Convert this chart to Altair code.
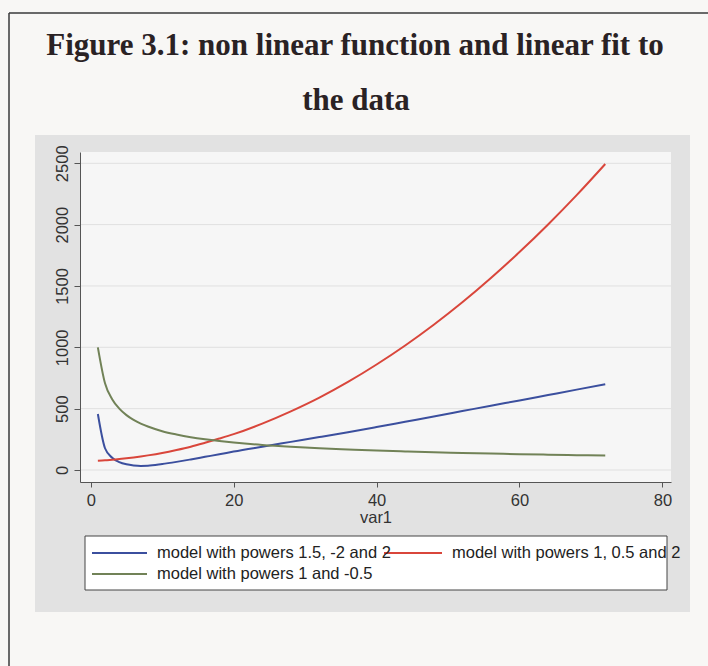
import altair as alt
import pandas as pd

# Fitted curves evaluated at these values of var1
x_vals = [1, 2, 3, 4, 5, 6, 7, 8, 10, 12, 14, 16, 18, 20, 24, 28, 32, 36, 40,
          44, 48, 52, 56, 60, 64, 68, 72]
blue_vals = [456, 177, 100, 64, 46, 37, 33, 34, 48, 66, 86, 107, 128, 150, 190,
             229, 268, 308, 350, 393, 436, 480, 524, 567, 611, 655, 698]
red_vals = [76, 79, 84, 89, 95, 102, 110, 119, 139, 163, 190, 222, 256, 292, 378,
            478, 590, 718, 860, 1015, 1184, 1367, 1565, 1776, 2001, 2240, 2494]
green_vals = [1000, 707, 577, 500, 447, 408, 378, 354, 316, 289, 267, 250, 236,
              224, 204, 189, 177, 167, 158, 151, 144, 139, 134, 129, 125, 121, 118]

series_names = ["model with powers 1.5, -2 and 2",
                "model with powers 1, 0.5 and 2",
                "model with powers 1 and -0.5"]
series_colors = ["#3b4f9e", "#d9463b", "#718257"]

y_ticks = [0, 500, 1000, 1500, 2000, 2500]
x_ticks = [0, 20, 40, 60, 80]

title_lines = ["Figure 3.1: non linear function and linear fit to", "the data"]

rows = []
for name, vals in zip(series_names, [blue_vals, red_vals, green_vals]):
    for xv, yv in zip(x_vals, vals):
        rows.append({"var1": xv, "value": yv, "series": name})
df = pd.DataFrame(rows)

W, H = 591, 330
x_scale = alt.Scale(domain=[-1.5, 81.2], nice=False, zero=False)
y_scale = alt.Scale(domain=[-98, 2592], nice=False, zero=False)
color_scale = alt.Scale(domain=series_names, range=series_colors)

one = pd.DataFrame({"k": [0]})
FONT = "Liberation Sans"
FS = 16.5

y_axis = alt.Axis(values=y_ticks, format="d", title=None, grid=False, zindex=1,
                  labelAngle=270, labelAlign="center", labelBaseline="bottom",
                  labelFont=FONT, labelFontSize=FS, labelColor="#333",
                  tickSize=6, tickColor="#555", domainColor="#555",
                  labelPadding=4)
x_axis = alt.Axis(values=x_ticks, format="d", title="var1", grid=False,
                  zindex=1, labelFont=FONT, labelFontSize=FS,
                  labelColor="#333", tickSize=5, tickColor="#555",
                  domainColor="#555", labelPadding=5, labelFlush=False,
                  titleFont=FONT, titleFontSize=FS, titleFontWeight="normal",
                  titleColor="#333", titlePadding=1)

# Outer graph region (grey) and the inner plot region
graph_region = alt.Chart(one).mark_rect(color="#e2e2e2").encode(
    x=alt.value(-45), x2=alt.value(610), y=alt.value(-17), y2=alt.value(460))
plot_region = alt.Chart(one).mark_rect(color="#f6f6f6").encode(
    x=alt.value(0), x2=alt.value(W), y=alt.value(0), y2=alt.value(H))

grid = alt.Chart(pd.DataFrame({"tick": y_ticks})).mark_rule(
    color="#e0e0e0", strokeWidth=1).encode(
    y=alt.Y("tick:Q", scale=y_scale, axis=y_axis))

lines = alt.Chart(df).mark_line(strokeWidth=2, interpolate="monotone").encode(
    x=alt.X("var1:Q", scale=x_scale, axis=x_axis),
    y=alt.Y("value:Q", scale=y_scale, axis=y_axis),
    color=alt.Color("series:N", sort=series_names, scale=color_scale,
                    legend=None),
)

# Legend box with line samples and labels (two columns, Stata style)
legend_box = alt.Chart(one).mark_rect(
    fill="#ffffff", stroke="#444", strokeWidth=1).encode(
    x=alt.value(5), x2=alt.value(587), y=alt.value(384), y2=alt.value(438))

legend_df = pd.DataFrame({
    "series": series_names,
    "sx0": [12, 304, 12],
    "sx1": [67, 362, 67],
    "tx": [77, 372, 77],
    "ty": [401, 401, 422],
})
legend_samples = alt.Chart(legend_df).mark_rule(strokeWidth=2).encode(
    x=alt.X("sx0:Q", scale=None), x2="sx1:Q",
    y=alt.Y("ty:Q", scale=None),
    color=alt.Color("series:N", scale=color_scale, legend=None),
)
legend_labels = alt.Chart(legend_df).mark_text(
    font=FONT, fontSize=FS, color="#222", align="left", baseline="middle").encode(
    x=alt.X("tx:Q", scale=None), y=alt.Y("ty:Q", scale=None), text="series:N")

# Page frame
left_rule = alt.Chart(one).mark_rule(color="#3a3a3a", strokeWidth=1.5).encode(
    x=alt.value(-71), y=alt.value(-139), y2=alt.value(520))
top_rule = alt.Chart(one).mark_rule(color="#3a3a3a", strokeWidth=1.5).encode(
    y=alt.value(-139), x=alt.value(-71), x2=alt.value(640))

title1 = alt.Chart(one).mark_text(
    font="Liberation Serif", fontSize=31, fontWeight="bold", color="#2a2224",
    align="center", baseline="alphabetic").encode(
    x=alt.value(275), y=alt.value(-97), text=alt.value(title_lines[0]))
title2 = alt.Chart(one).mark_text(
    font="Liberation Serif", fontSize=31, fontWeight="bold", color="#2a2224",
    align="center", baseline="alphabetic").encode(
    x=alt.value(276), y=alt.value(-42), text=alt.value(title_lines[1]))

chart = alt.layer(
    graph_region, plot_region, grid, lines, legend_box, legend_samples,
    legend_labels, left_rule, top_rule, title1, title2
).resolve_scale(color="independent").properties(
    width=W, height=H, autosize="none",
    padding={"left": 80, "top": 152, "right": 37, "bottom": 184},
).configure_view(stroke=None).configure(background="#f8f7f5")

chart.save("out.html", embed_options={"renderer": "svg", "actions": False})
